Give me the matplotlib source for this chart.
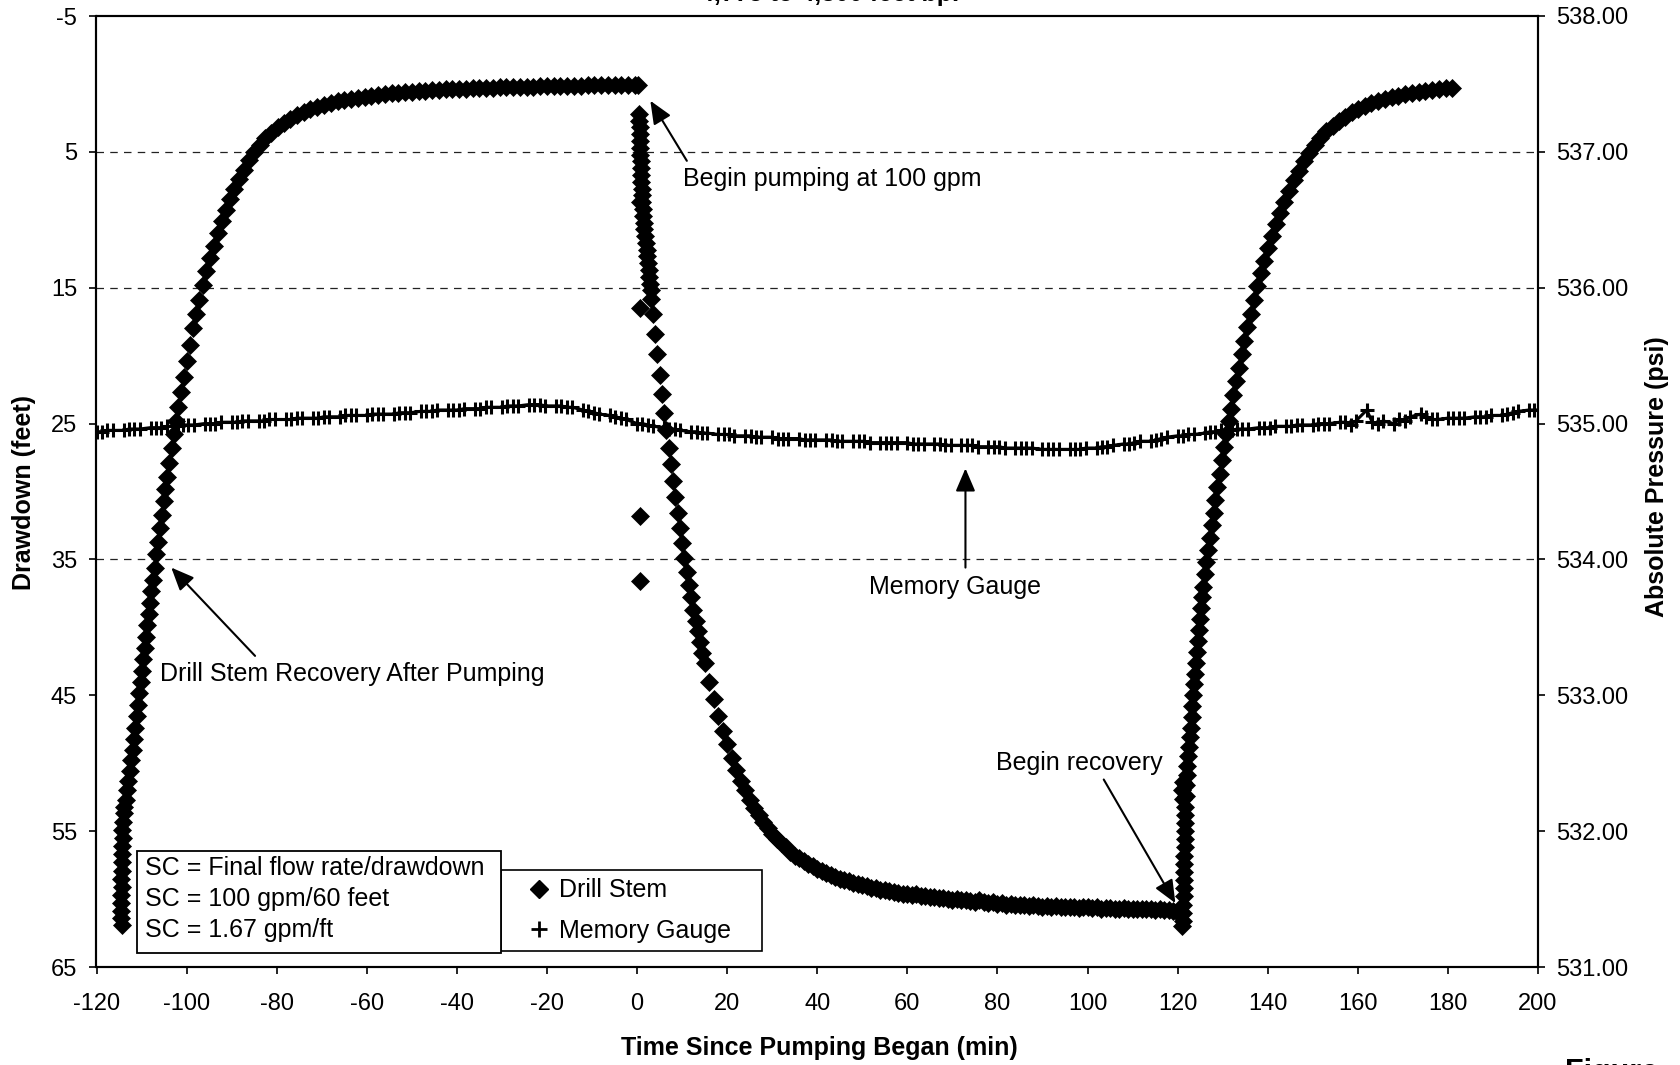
import matplotlib
matplotlib.use("Agg")
import matplotlib.pyplot as plt
from matplotlib.lines import Line2D
from matplotlib.patches import Rectangle
from matplotlib.ticker import FormatStrFormatter

plt.rcParams['font.family'] = ['Liberation Sans', 'DejaVu Sans']
plt.rcParams['axes.unicode_minus'] = False

# ---------------- data ----------------
x_ticks = [-120, -100, -80, -60, -40, -20, 0, 20, 40, 60, 80, 100, 120, 140, 160, 180, 200]
left_ticks = [-5, 5, 15, 25, 35, 45, 55, 65]
right_ticks = [531.0, 532.0, 533.0, 534.0, 535.0, 536.0, 537.0, 538.0]
grid_levels = [5, 15, 35]

# Drill stem: recovery before the test (time in min, drawdown in ft)
rec1_time = [-114.4, -114.6, -114.5, -114.6, -114.5, -114.4, -114.5, -114.4, -114.3, -114.4,
             -114.3, -114.2, -114.3, -114.1, -114.0, -113.8, -113.5, -113.2, -112.9, -112.6,
             -112.3, -112.0, -111.7, -111.4, -111.1, -110.8, -110.5, -110.2, -109.9, -109.6,
             -109.3, -109.0, -108.7, -108.4, -108.1, -107.8, -107.5, -107.1, -106.7, -106.3,
             -105.9, -105.5, -105.1, -104.7, -104.3, -103.8, -103.3, -102.8, -102.3, -101.8,
             -101.2, -100.6, -100.0, -99.3, -98.6, -97.9, -97.2, -96.4, -95.6, -94.8,
             -94.0, -93.1, -92.2, -91.3, -90.4, -89.4, -88.4, -87.3, -86.2, -85.0,
             -83.8, -82.5, -81.2, -79.8, -78.4, -77.0, -75.5, -74.0, -72.5, -71.0,
             -69.5, -68.0, -66.5, -65.0, -63.5, -62.0, -60.5, -59.0, -57.5, -56.0,
             -54.5, -53.0, -51.5, -50.0, -48.5, -47.0, -45.5, -44.0, -42.5, -41.0,
             -39.5, -38.0, -36.5, -35.0, -33.5, -32.0, -30.5, -29.0, -27.5, -26.0,
             -24.5, -23.0, -21.5, -20.0, -18.5, -17.0, -15.5, -14.0, -12.5, -11.0,
             -9.5, -8.0, -6.5, -5.0, -3.5, -2.0, -0.5, 0.3]
rec1_dd = [61.9, 61.4, 60.9, 60.3, 59.7, 59.1, 58.5, 57.9, 57.3, 56.7,
           56.1, 55.5, 54.9, 54.3, 53.7, 53.2, 52.7, 52.0, 51.3, 50.6,
           49.8, 49.0, 48.2, 47.4, 46.5, 45.7, 44.8, 44.0, 43.2, 42.3,
           41.5, 40.7, 39.8, 39.0, 38.2, 37.3, 36.5, 35.6, 34.6, 33.7,
           32.7, 31.7, 30.7, 29.8, 28.9, 27.9, 26.8, 25.8, 24.8, 23.8,
           22.7, 21.6, 20.4, 19.2, 18.0, 16.9, 15.9, 14.8, 13.8, 12.8,
           11.9, 11.0, 10.1, 9.3, 8.5, 7.7, 7.0, 6.3, 5.6, 5.0,
           4.5, 4.0, 3.6, 3.2, 2.85, 2.55, 2.3, 2.05, 1.85, 1.68,
           1.52, 1.4, 1.28, 1.18, 1.09, 1.0, 0.93, 0.86, 0.8, 0.74,
           0.69, 0.64, 0.6, 0.56, 0.52, 0.49, 0.46, 0.43, 0.4, 0.38,
           0.36, 0.34, 0.32, 0.3, 0.28, 0.27, 0.25, 0.24, 0.22, 0.21,
           0.2, 0.19, 0.18, 0.17, 0.16, 0.15, 0.14, 0.13, 0.12, 0.11,
           0.1, 0.09, 0.08, 0.07, 0.06, 0.05, 0.05, 0.05]

# Drill stem: pumping at 100 gpm
pump_time = [0.45, 0.5, 0.55, 0.6, 0.65, 0.7, 0.75, 0.8, 0.85, 0.9,
             0.95, 1.0, 1.1, 1.2, 1.3, 1.4, 1.5, 1.65, 1.8, 1.95,
             2.1, 2.25, 2.4, 2.55, 2.7, 2.85, 3.0, 3.2, 3.5, 4.0,
             4.5, 5.0, 5.5, 6.0, 6.5, 7.0, 7.5, 8.0, 8.5, 9.0,
             9.5, 10.0, 10.5, 11.0, 11.5, 12.0, 12.5, 13.0, 13.5, 14.0,
             14.5, 15, 16, 17, 18, 19, 20, 21, 22, 23,
             24, 25, 26, 27, 28, 29, 30, 31, 32, 33,
             34, 35, 36, 37, 38, 39, 40, 41, 42, 43,
             44, 45, 46, 47, 48, 49, 50, 51, 52, 53,
             54, 55, 56, 57, 58, 59, 60, 61, 62, 63,
             64, 65, 66, 67, 68, 69, 70, 71, 72, 73,
             74, 75, 76, 77, 78, 79, 80, 81, 82, 83,
             84, 85, 86, 87, 88, 89, 90, 91, 92, 93,
             94, 95, 96, 97, 98, 99, 100, 101, 102, 103,
             104, 105, 106, 107, 108, 109, 110, 111, 112, 113,
             114, 115, 116, 117, 118, 119, 120, 120.6, 121.0]
pump_dd = [2.2, 2.7, 3.2, 3.7, 4.2, 4.7, 5.2, 5.7, 6.2, 6.7,
           7.2, 7.7, 8.2, 8.7, 9.2, 9.7, 10.2, 10.7, 11.2, 11.7,
           12.2, 12.7, 13.2, 13.7, 14.2, 14.7, 15.2, 15.8, 16.9, 18.4,
           19.9, 21.4, 22.8, 24.2, 25.5, 26.8, 28.0, 29.2, 30.4, 31.6,
           32.7, 33.8, 34.9, 35.9, 36.9, 37.8, 38.7, 39.5, 40.3, 41.1,
           41.9, 42.6, 44.0, 45.3, 46.5, 47.6, 48.6, 49.6, 50.5, 51.3,
           52.0, 52.7, 53.3, 53.8, 54.3, 54.8, 55.2, 55.6, 55.9, 56.2,
           56.5, 56.8, 57.0, 57.2, 57.4, 57.6, 57.8, 57.95, 58.1, 58.25,
           58.4, 58.5, 58.6, 58.7, 58.8, 58.9, 59.0, 59.05, 59.15, 59.2,
           59.3, 59.35, 59.4, 59.45, 59.55, 59.6, 59.6, 59.7, 59.6, 59.75,
           59.8, 59.85, 59.85, 59.9, 59.95, 60.0, 60.05, 60.0, 60.1, 60.1,
           60.15, 60.2, 60.1, 60.25, 60.3, 60.25, 60.35, 60.3, 60.4, 60.35,
           60.4, 60.45, 60.4, 60.5, 60.45, 60.5, 60.55, 60.5, 60.55, 60.5,
           60.6, 60.55, 60.6, 60.55, 60.65, 60.6, 60.6, 60.65, 60.6, 60.7,
           60.65, 60.65, 60.7, 60.7, 60.65, 60.75, 60.7, 60.7, 60.75, 60.7,
           60.75, 60.8, 60.75, 60.8, 60.8, 60.85, 60.85, 61.2, 62.0]

# Drill stem: isolated readings at the start of pumping
spike_time = [0.6, 0.6, 0.6, 0.6]
spike_dd = [8.7, 16.5, 31.8, 36.6]

# Drill stem: recovery after pumping
rec2_time = [121.2, 121.3, 121.3, 121.4, 121.4, 121.4, 121.5, 121.5, 121.5, 121.6,
             121.6, 121.6, 121.7, 121.7, 121.7, 121.2, 121.0, 121.1, 121.8, 121.9,
             122.0, 122.1, 122.3, 122.5, 122.7, 122.9, 123.1, 123.3, 123.5, 123.7,
             123.9, 124.1, 124.3, 124.5, 124.7, 124.9, 125.1, 125.4, 125.7, 126.0,
             126.4, 126.8, 127.2, 127.6, 128.0, 128.4, 128.8, 129.3, 129.8, 130.3,
             130.8, 131.3, 131.8, 132.4, 133.0, 133.6, 134.2, 134.8, 135.5, 136.2,
             136.9, 137.6, 138.4, 139.2, 140.0, 140.9, 141.8, 142.7, 143.7, 144.7,
             145.8, 146.9, 148.0, 149.2, 150.4, 151.7, 153.0, 154.4, 155.8, 157.2,
             158.6, 160.0, 161.5, 163.0, 164.5, 166.0, 167.5, 169.0, 170.5, 172.0,
             173.5, 175.0, 176.5, 178.0, 179.5, 181.0]
rec2_dd = [61.6, 61.0, 60.4, 59.8, 59.2, 58.6, 58.0, 57.4, 56.8, 56.2,
           55.6, 55.0, 54.4, 53.8, 53.2, 52.6, 52.0, 51.4, 52.4, 51.6,
           50.9, 50.2, 49.5, 48.8, 48.1, 47.4, 46.6, 45.8, 45.0, 44.2,
           43.4, 42.6, 41.8, 41.0, 40.2, 39.4, 38.6, 37.8, 37.0, 36.1,
           35.2, 34.3, 33.4, 32.5, 31.6, 30.6, 29.7, 28.7, 27.7, 26.7,
           25.8, 24.8, 23.9, 22.9, 21.9, 20.9, 19.9, 18.9, 17.9, 16.9,
           15.9, 14.9, 13.9, 13.0, 12.1, 11.2, 10.3, 9.5, 8.7, 7.9,
           7.1, 6.4, 5.7, 5.1, 4.5, 4.0, 3.5, 3.1, 2.7, 2.4,
           2.1, 1.85, 1.63, 1.44, 1.27, 1.12, 0.98, 0.86, 0.76, 0.67,
           0.59, 0.52, 0.45, 0.39, 0.33, 0.27]

# Memory gauge: absolute pressure (psi), logged in groups of four readings every 6 min
mg_group_start = list(range(-120, 200, 6))
mg_offsets = [0.0, 1.2, 2.4, 3.6]
mg_time = [g + o for g in mg_group_start for o in mg_offsets]
mg_psi = [534.94, 534.94, 534.95, 534.95,   # -120
          534.95, 534.96, 534.96, 534.96,   # -114
          534.97, 534.97, 534.97, 534.98,   # -108
          534.98, 534.99, 534.99, 534.99,   # -102
          535.00, 535.00, 535.00, 535.01,   # -96
          535.01, 535.01, 535.02, 535.02,   # -90
          535.02, 535.02, 535.03, 535.03,   # -84
          535.03, 535.03, 535.04, 535.04,   # -78
          535.04, 535.04, 535.05, 535.05,   # -72
          535.05, 535.06, 535.06, 535.06,   # -66
          535.06, 535.07, 535.07, 535.07,   # -60
          535.07, 535.08, 535.08, 535.08,   # -54
          535.09, 535.09, 535.09, 535.10,   # -48
          535.10, 535.10, 535.10, 535.11,   # -42
          535.11, 535.11, 535.12, 535.12,   # -36
          535.12, 535.13, 535.13, 535.13,   # -30
          535.14, 535.14, 535.14, 535.13,   # -24
          535.13, 535.13, 535.12, 535.12,   # -18
          535.10, 535.09, 535.08, 535.07,   # -12
          535.06, 535.05, 535.04, 535.03,   # -6
          535.00, 535.00, 534.99, 534.98,   # 0
          534.97, 534.96, 534.96, 534.95,   # 6
          534.94, 534.94, 534.93, 534.93,   # 12
          534.92, 534.92, 534.92, 534.91,   # 18
          534.91, 534.91, 534.90, 534.90,   # 24
          534.90, 534.89, 534.89, 534.89,   # 30
          534.89, 534.88, 534.88, 534.88,   # 36
          534.88, 534.88, 534.87, 534.87,   # 42
          534.87, 534.87, 534.87, 534.86,   # 48
          534.86, 534.86, 534.86, 534.86,   # 54
          534.86, 534.85, 534.85, 534.85,   # 60
          534.85, 534.85, 534.84, 534.84,   # 66
          534.84, 534.84, 534.84, 534.83,   # 72
          534.83, 534.83, 534.83, 534.82,   # 78
          534.82, 534.82, 534.82, 534.82,   # 84
          534.81, 534.81, 534.81, 534.81,   # 90
          534.81, 534.81, 534.81, 534.82,   # 96
          534.82, 534.83, 534.83, 534.84,   # 102
          534.85, 534.85, 534.86, 534.87,   # 108
          534.87, 534.88, 534.89, 534.90,   # 114
          534.91, 534.91, 534.92, 534.92,   # 120
          534.93, 534.94, 534.94, 534.95,   # 126
          534.95, 534.96, 534.96, 534.96,   # 132
          534.97, 534.97, 534.97, 534.98,   # 138
          534.98, 534.98, 534.99, 534.99,   # 144
          534.99, 535.00, 535.00, 535.00,   # 150
          535.01, 535.01, 534.99, 535.02,   # 156
          535.10, 535.01, 535.00, 535.02,   # 162
          535.00, 535.03, 535.02, 535.05,   # 168
          535.07, 535.05, 535.03, 535.03,   # 174
          535.04, 535.04, 535.04, 535.04,   # 180
          535.05, 535.05, 535.05, 535.06,   # 186
          535.06, 535.07, 535.08, 535.09,   # 192
          535.10, 535.10, 535.10, 535.10]   # 198

box_lines = ["SC = Final flow rate/drawdown", "SC = 100 gpm/60 feet", "SC = 1.67 gpm/ft"]

# ---------------- figure ----------------
W, H = 1681, 1065
fig = plt.figure(figsize=(W / 100, H / 100), dpi=100)
ax_l, ax_r, ax_t, ax_b = 96.5, 1538.0, 16.0, 967.0
ax = fig.add_axes([ax_l / W, 1 - ax_b / H, (ax_r - ax_l) / W, (ax_b - ax_t) / H])
ax2 = ax.twinx()

ax.set_xlim(-120, 200)
ax.set_ylim(65, -5)
ax2.set_ylim(531, 538)

for g in grid_levels:
    ax.axhline(g, color='#222222', lw=0.9, ls=(0, (6, 5)), zorder=1)

ds_style = dict(ls='none', marker='D', ms=9.2, mfc='black', mec='black', mew=0.5, zorder=3)
ax.plot(rec1_time, rec1_dd, **ds_style)
ax.plot(pump_time, pump_dd, **ds_style)
ax.plot(spike_time, spike_dd, **ds_style)
ax.plot(rec2_time, rec2_dd, **ds_style)

ax2.plot(mg_time, mg_psi, color='black', lw=2.2, marker='+', ms=10, mew=2.2, zorder=3)

# ticks and spines
ax.set_xticks(x_ticks)
ax.set_yticks(left_ticks)
ax2.set_yticks(right_ticks)
ax2.yaxis.set_major_formatter(FormatStrFormatter('%.2f'))
ax.tick_params(axis='x', direction='out', length=5, width=1.2, labelsize=17, pad=14)
ax.tick_params(axis='y', direction='out', length=5, width=1.2, labelsize=17, pad=9)
ax2.tick_params(axis='y', direction='out', length=5, width=1.2, labelsize=17, pad=8)
for a in (ax, ax2):
    for s in a.spines.values():
        s.set_linewidth(1.5)
        s.set_color('black')

# axis labels
fig.text(819.5 / W, 1 - 1047.5 / H, 'Time Since Pumping Began (min)', ha='center', va='center',
         fontsize=18, fontweight='bold')
fig.text(23.6 / W, 1 - 493 / H, 'Drawdown (feet)', rotation=90, ha='center', va='center',
         fontsize=18, fontweight='bold')
fig.text(1657 / W, 1 - 477 / H, 'Absolute Pressure (psi)', rotation=90, ha='center', va='center',
         fontsize=18, fontweight='bold')

# title (cut off at the top, as in the source) and figure caption (cut off at the bottom)
fig.text(830 / W, 1 - 0.5 / H, '4,775 to 4,800 feet bp.', ha='center', va='baseline',
         fontsize=18, fontweight='bold')
fig.text(1565 / W, 1 - 1058 / H, 'Figure', ha='left', va='top', fontsize=22, fontweight='bold')

# annotations
arrow = dict(arrowstyle='-|>,head_length=0.7,head_width=0.3', color='black', lw=1.5,
             shrinkA=0, shrinkB=0, mutation_scale=20)
ax.annotate('', xy=(2.95, 1.24), xytext=(11.05, 5.66), arrowprops=arrow, zorder=5)
ax.text(10.3, 7.0, 'Begin pumping at 100 gpm', ha='left', va='center', fontsize=18)

ax.annotate('', xy=(-103.4, 35.6), xytext=(-84.8, 42.1), arrowprops=arrow, zorder=5)
ax.text(-105.8, 43.45, 'Drill Stem Recovery After Pumping', ha='left', va='center', fontsize=18)

ax.annotate('', xy=(72.9, 28.3), xytext=(72.9, 35.6), arrowprops=arrow, zorder=5)
ax.text(70.6, 37.0, 'Memory Gauge', ha='center', va='center', fontsize=18)

ax.annotate('', xy=(119.5, 60.3), xytext=(103.6, 51.2), arrowprops=arrow, zorder=5)
ax.text(98.2, 50.0, 'Begin recovery', ha='center', va='center', fontsize=18)

# text box (specific capacity)
def fx(px):
    return (px - ax_l) / (ax_r - ax_l)

def fy(py):
    return (ax_b - py) / (ax_b - ax_t)

ax2.add_patch(Rectangle((fx(137), fy(953)), fx(500.6) - fx(137), fy(851) - fy(953),
                        transform=ax2.transAxes, fc='white', ec='black', lw=1.3, zorder=10,
                        clip_on=False))
for line, py in zip(box_lines, [868, 899, 930.5]):
    ax2.text(fx(144.7), fy(py), line, transform=ax2.transAxes, ha='left', va='center',
             fontsize=18, zorder=11)

# legend
handles = [Line2D([], [], ls='none', marker='D', ms=9, color='black'),
           Line2D([], [], ls='none', marker='+', ms=11, mew=2, color='black')]
leg = ax2.legend(handles, ['Drill Stem', 'Memory Gauge'], loc='lower left',
                 bbox_to_anchor=(fx(500.6), fy(951), fx(762) - fx(500.6), fy(868) - fy(951)),
                 mode='expand', fontsize=18, frameon=True, fancybox=False, edgecolor='black',
                 framealpha=1, borderpad=0.32, labelspacing=0.67, handlelength=2.4,
                 handletextpad=-0.4, borderaxespad=0)
leg.get_frame().set_linewidth(1.2)
leg.set_zorder(9)

fig.savefig('out.png', dpi=100)
